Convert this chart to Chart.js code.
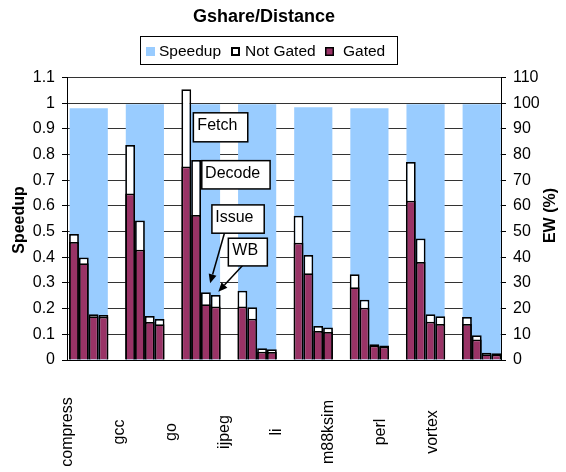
<!DOCTYPE html>
<html>
<head>
<meta charset="utf-8">
<script src="https://cdn.jsdelivr.net/npm/chart.js@4.4.1/dist/chart.umd.min.js"></script>
<style>
  html, body { margin: 0; padding: 0; background: #fff; }
  #wrap { width: 566px; height: 472px; position: relative; }
</style>
</head>
<body>
<div id="wrap"><canvas id="c"></canvas></div>
<script>
// Benchmarks and measured values
const benchmarks = ['compress', 'gcc', 'go', 'ijpeg', 'li', 'm88ksim', 'perl', 'vortex'];
const stages = ['Fetch', 'Decode', 'Issue', 'WB'];
const speedup = [0.980, 0.996, 0.996, 0.996, 0.984, 0.980, 0.996, 0.996];

// Energy-waste (%) per pipeline stage: without gating (full bar) and with gating
const fetchNotGated  = [49.1, 83.7, 105.4, 27.0, 56.2, 33.4, 77.1, 16.7];
const fetchGated     = [45.9, 64.8, 75.3, 20.8, 45.7, 28.3, 62.0, 14.0];
const decodeNotGated = [39.9, 54.3, 77.9, 20.5, 40.9, 23.5, 47.3, 9.6];
const decodeGated    = [37.7, 42.9, 56.5, 16.1, 33.8, 20.3, 38.2, 8.0];
const issueNotGated  = [17.8, 17.1, 26.4, 4.6, 13.2, 6.1, 17.8, 2.8];
const issueGated     = [17.0, 14.8, 21.7, 3.2, 11.3, 5.6, 14.9, 2.2];
const wbNotGated     = [17.5, 16.0, 25.3, 4.2, 12.7, 5.6, 17.0, 2.6];
const wbGated        = [16.8, 13.9, 20.8, 3.1, 10.9, 5.2, 14.0, 2.1];

const legendLabels = ['Speedup', 'Not Gated', 'Gated'];

const gatedByStage = [fetchGated, decodeGated, issueGated, wbGated];
const notGatedByStage = [fetchNotGated, decodeNotGated, issueNotGated, wbNotGated];

const BLUE = '#99CCFF';
const MAROON = '#993366';
const FONT = '"Liberation Sans", Arial, Helvetica, sans-serif';
const BAR_BORDER = 1.75;

// Horizontal extent of the category axis, in category units
const X_MIN = -0.387, X_MAX = 7.344;
// Width of one stage bar, as a fraction of a category
const SLOT = 0.175;
// Each stage gets its own hidden index axis, shifted so its bars sit side by side
const stageAxisId = k => 'x' + stages[k];
const stageShift = k => (k - 1.5) * SLOT;

const points = arr => arr.map((v, i) => ({ x: i, y: v }));

const datasets = [
  ...stages.map((s, k) => ({
    label: 'Gated', data: points(gatedByStage[k]),
    xAxisID: stageAxisId(k), yAxisID: 'y2', order: 1, grouped: false,
    backgroundColor: MAROON, borderColor: '#000', borderWidth: BAR_BORDER,
    categoryPercentage: SLOT, barPercentage: 1.0
  })),
  ...stages.map((s, k) => ({
    label: 'Not Gated', data: points(notGatedByStage[k]),
    xAxisID: stageAxisId(k), yAxisID: 'y2', order: 2, grouped: false,
    backgroundColor: '#fff', borderColor: '#000', borderWidth: BAR_BORDER,
    categoryPercentage: SLOT, barPercentage: 1.0
  })),
  {
    label: 'Speedup', data: points(speedup),
    xAxisID: 'x', yAxisID: 'y', order: 3, grouped: false,
    backgroundColor: BLUE, borderWidth: 0,
    categoryPercentage: 0.68, barPercentage: 1.0
  }
];

function rotatedText(ctx, text, x, y) {
  ctx.save();
  ctx.translate(x, y);
  ctx.rotate(-Math.PI / 2);
  ctx.fillText(text, 0, 0);
  ctx.restore();
}

function labelBox(ctx, x, y, w, h, text, dx, dy) {
  ctx.fillStyle = '#fff';
  ctx.fillRect(x, y, w, h);
  ctx.strokeStyle = '#000';
  ctx.lineWidth = 1.5;
  ctx.strokeRect(x, y, w, h);
  ctx.fillStyle = '#000';
  ctx.textAlign = 'left';
  ctx.textBaseline = 'alphabetic';
  ctx.font = '16px ' + FONT;
  ctx.fillText(text, x + dx, y + dy);
}

function arrow(ctx, x1, y1, x2, y2) {
  const ang = Math.atan2(y2 - y1, x2 - x1);
  const len = 9, half = 4;
  const bx = x2 - len * Math.cos(ang), by = y2 - len * Math.sin(ang);
  ctx.strokeStyle = '#000';
  ctx.lineWidth = 1.5;
  ctx.beginPath();
  ctx.moveTo(x1, y1);
  ctx.lineTo(bx, by);
  ctx.stroke();
  ctx.fillStyle = '#000';
  ctx.beginPath();
  ctx.moveTo(x2, y2);
  ctx.lineTo(bx + half * Math.sin(ang), by - half * Math.cos(ang));
  ctx.lineTo(bx - half * Math.sin(ang), by + half * Math.cos(ang));
  ctx.closePath();
  ctx.fill();
}

// Title, framed legend, axis titles, category labels and stage callouts
const decorations = {
  id: 'decorations',
  afterDraw(chart) {
    const { ctx, chartArea } = chart;
    ctx.save();

    // title
    ctx.fillStyle = '#000';
    ctx.font = 'bold 18px ' + FONT;
    ctx.textAlign = 'center';
    ctx.textBaseline = 'alphabetic';
    ctx.fillText('Gshare/Distance', 264, 21.5);

    // legend frame
    ctx.fillStyle = '#fff';
    ctx.fillRect(140.5, 36.5, 257, 28);
    ctx.strokeStyle = '#000';
    ctx.lineWidth = 1;
    ctx.strokeRect(140.5, 36.5, 257, 28);
    // legend markers
    ctx.fillStyle = BLUE;
    ctx.fillRect(146, 47, 9, 9);
    ctx.fillStyle = '#fff';
    ctx.fillRect(231, 47, 9, 9);
    ctx.lineWidth = 2;
    ctx.strokeRect(232, 48, 7, 7);
    ctx.fillStyle = MAROON;
    ctx.fillRect(325, 47, 9, 9);
    ctx.lineWidth = 1.5;
    ctx.strokeRect(325.75, 47.75, 7.5, 7.5);
    // legend texts
    ctx.fillStyle = '#000';
    ctx.font = '15.5px ' + FONT;
    ctx.textAlign = 'left';
    ctx.fillText(legendLabels[0], 159, 55.5);
    ctx.fillText(legendLabels[1], 245, 55.5);
    ctx.fillText(legendLabels[2], 343, 55.5);

    // axis titles
    ctx.font = 'bold 16px ' + FONT;
    ctx.textAlign = 'center';
    ctx.textBaseline = 'middle';
    rotatedText(ctx, 'Speedup', 19.5, 220);
    rotatedText(ctx, 'EW (%)', 551, 215.5);

    // category labels, reading upwards
    ctx.font = '16px ' + FONT;
    ctx.textBaseline = 'alphabetic';
    benchmarks.forEach((b, i) => {
      rotatedText(ctx, b, chartArea.left + 5 + i * 52.2, 432);
    });

    // stage callouts on the "go" group
    const goIdx = benchmarks.indexOf('go');
    const fe = chart.getDatasetMeta(4).data[goIdx];
    const de = chart.getDatasetMeta(5).data[goIdx];
    const is = chart.getDatasetMeta(6).data[goIdx];
    const wb = chart.getDatasetMeta(7).data[goIdx];

    arrow(ctx, is.x + 18.5, is.y - 59, is.x + 4.2, is.y - 9);
    arrow(ctx, wb.x + 31, wb.y - 34, wb.x + 2.6, wb.y - 3.4);

    labelBox(ctx, fe.x + 7.1, fe.y + 23.5, 54.4, 29, stages[0], 4, 17);
    labelBox(ctx, de.x + 5.7, de.y + 0.7, 68.3, 28.3, stages[1], 3.3, 17.3);
    labelBox(ctx, is.x + 6, is.y - 87.3, 52.3, 28.3, stages[2], 3.3, 16.7);
    labelBox(ctx, wb.x + 12.6, wb.y - 56.8, 39, 27.7, stages[3], 4, 16.7);

    ctx.restore();
  }
};

Chart.defaults.font.family = FONT;
Chart.defaults.font.size = 16;
Chart.defaults.color = '#000';

const scales = {
  x: {
    type: 'linear', min: X_MIN, max: X_MAX, offset: false,
    grid: { display: false, drawTicks: false },
    border: { display: true, color: '#000', width: 1 },
    ticks: { display: false, stepSize: 1, includeBounds: false },
    afterFit: s => { s.height = 112; }
  },
  y: {
    position: 'left', min: 0, max: 1.1,
    ticks: {
      stepSize: 0.1, padding: 7, color: '#000',
      callback: v => String(Math.round(v * 10) / 10)
    },
    grid: { color: '#333', tickColor: '#000', tickLength: 5, lineWidth: 1 },
    border: { color: '#000', width: 1 },
    afterFit: s => { s.width = 67; }
  },
  y2: {
    position: 'right', min: 0, max: 110,
    ticks: { stepSize: 10, padding: 7, color: '#000' },
    grid: { drawOnChartArea: false, tickColor: '#000', tickLength: 5 },
    border: { color: '#000', width: 1 },
    afterFit: s => { s.width = 65; }
  }
};
stages.forEach((s, k) => {
  scales[stageAxisId(k)] = {
    type: 'linear', display: false, offset: false,
    min: X_MIN - stageShift(k), max: X_MAX - stageShift(k),
    ticks: { stepSize: 1, includeBounds: false }
  };
});

new Chart(document.getElementById('c'), {
  type: 'bar',
  data: { datasets },
  options: {
    responsive: true,
    maintainAspectRatio: false,
    animation: false,
    layout: { padding: { top: 77.5, left: 0, right: 0, bottom: 0 } },
    plugins: {
      legend: { display: false },
      title: { display: false },
      tooltip: { enabled: false }
    },
    scales
  },
  plugins: [decorations]
});
</script>
</body>
</html>
